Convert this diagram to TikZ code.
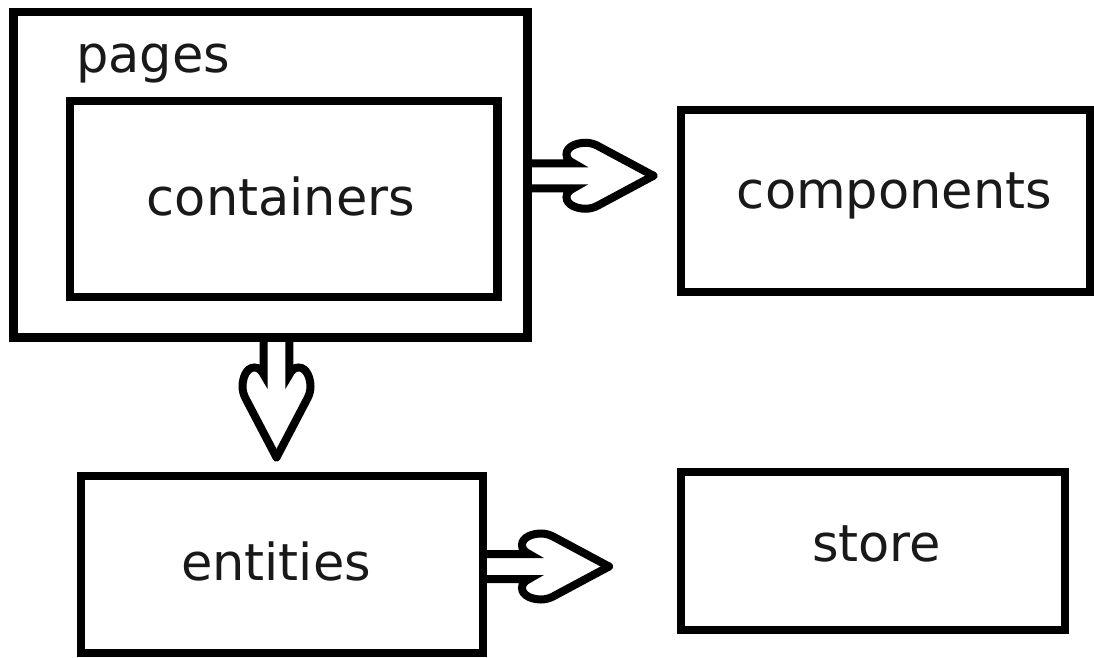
\documentclass[tikz,border=0pt]{standalone}
\usepackage{fontspec}
\setmainfont{DejaVu Sans}
\begin{document}
\begin{tikzpicture}[x=1pt,y=-1pt,
  box/.style={draw=black, line width=8.5pt, fill=white, rectangle, inner sep=0pt, outer sep=0pt},
  lbl/.style={inner sep=0pt, outer sep=0pt, font=\fontsize{51}{60}\selectfont, text=black!90},
  arrowline/.style={draw=black, line width=8pt, line join=miter, miter limit=10, line cap=round},
  pics/fatarrow/.style={code={
    \foreach \s in {1,-1}{
    \draw[arrowline] (0,\s*12.5) -- ({46+#1},\s*12.5)
      .. controls ({41.5+#1},\s*14.6) and ({39+#1},\s*17.5) .. ({39+#1},\s*21.5)
      .. controls ({39+#1},\s*29.5) and ({50+#1},\s*33) .. ({58+#1},\s*33)
      .. controls ({62+#1},\s*33) and ({66.5+#1},\s*31.9) .. ({70+#1},\s*30)
      -- ({126+0.67*#1},0);
    }
  }}]
\useasboundingbox (0,0) rectangle (1094,658);
\fill[white] (0,0) rectangle (1094,658);

% boxes
\node[box, minimum width=514pt, minimum height=325.5pt] (pages) at (270.5,174.75) {};
\node[box, minimum width=427.5pt, minimum height=196pt] (containers) at (283.75,199) {};
\node[box, minimum width=409pt, minimum height=182pt] (components) at (885.5,201) {};
\node[box, minimum width=402pt, minimum height=177pt] (entities) at (282,564.5) {};
\node[box, minimum width=384pt, minimum height=158pt] (store) at (873,551) {};

% labels
\node[lbl, anchor=base west] (pagesT) at (76,73) {pages};
\node[lbl, anchor=base] (containersT) at (281,215) {containers};
\node[lbl, anchor=base] (componentsT) at (894.5,208) {components};
\node[lbl, anchor=base] (entitiesT) at (276,580) {entities};
\node[lbl, anchor=base] (storeT) at (876.5,561) {store};

% connectors
\pic at ([yshift=-1pt]pages.east) {fatarrow=0};
\pic[rotate=-90, yscale=1.03] at ([xshift=6pt]pages.south) {fatarrow=-9};
\pic at ([yshift=-2pt]entities.east) {fatarrow=0};
\end{tikzpicture}
\end{document}
